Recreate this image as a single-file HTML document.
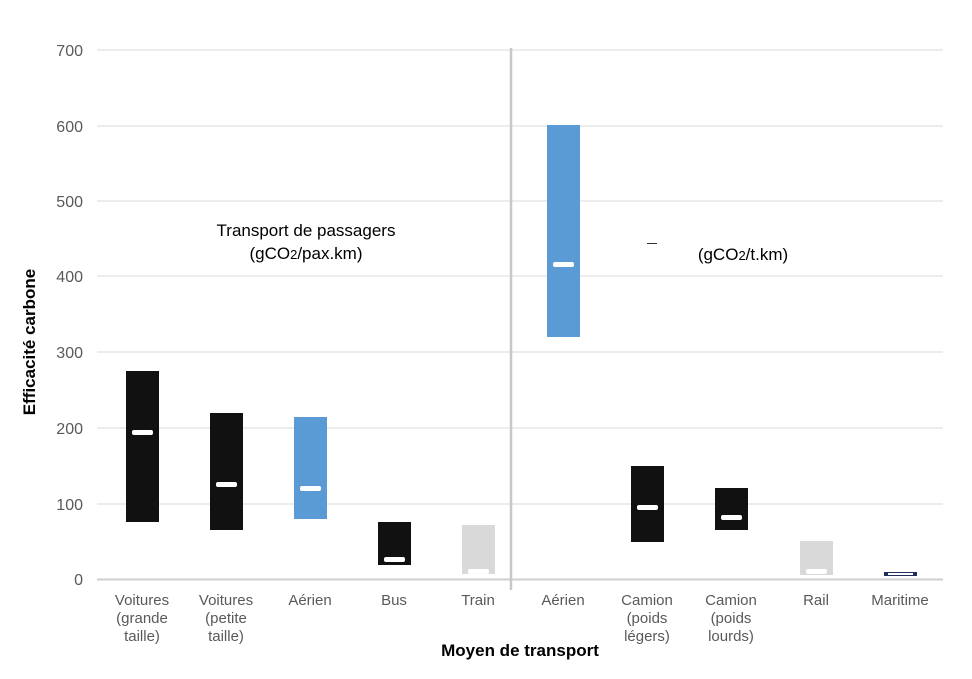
<!DOCTYPE html>
<html><head><meta charset="utf-8"><style>body{margin:0;background:#fff}</style></head><body>
<svg width="972" height="674" xmlns="http://www.w3.org/2000/svg" font-family="Liberation Sans, sans-serif">
<g stroke="#d9d9d9" stroke-width="1">
<line x1="97" y1="50" x2="943" y2="50"/><line x1="97" y1="126" x2="943" y2="126"/>
<line x1="97" y1="201" x2="943" y2="201"/><line x1="97" y1="276" x2="943" y2="276"/>
<line x1="97" y1="352" x2="943" y2="352"/><line x1="97" y1="428" x2="943" y2="428"/>
<line x1="97" y1="504" x2="943" y2="504"/>
</g>
<line x1="97" y1="579.5" x2="943" y2="579.5" stroke="#cfcfcf" stroke-width="2"/>
<line x1="511" y1="48" x2="511" y2="590" stroke="#c8c8c8" stroke-width="2.5"/>
<g font-size="16" fill="#595959" text-anchor="end">
<text x="83" y="56">700</text><text x="83" y="132">600</text><text x="83" y="207">500</text>
<text x="83" y="282">400</text><text x="83" y="358">300</text><text x="83" y="434">200</text>
<text x="83" y="510">100</text><text x="83" y="585">0</text></g>
<g>
<rect x="126" y="371" width="33" height="151" fill="#111"/>
<rect x="210" y="413" width="33" height="117" fill="#111"/>
<rect x="294" y="417" width="33" height="102" fill="#5b9bd5"/>
<rect x="378" y="522" width="33" height="43" fill="#111"/>
<rect x="462" y="525" width="33" height="49" fill="#d9d9d9"/>
<rect x="547" y="125" width="33" height="212" fill="#5b9bd5"/>
<rect x="631" y="466" width="33" height="76" fill="#111"/>
<rect x="715" y="488" width="33" height="42" fill="#111"/>
<rect x="800" y="541" width="33" height="34" fill="#d9d9d9"/>
<rect x="884" y="572" width="33" height="4" fill="#1f2e5e"/>
<rect x="888" y="573" width="25" height="2" fill="#fff"/>
</g>
<g fill="#fff">
<rect x="132" y="430" width="21" height="5" rx="2"/>
<rect x="216" y="482" width="21" height="5" rx="2"/>
<rect x="300" y="486" width="21" height="5" rx="2"/>
<rect x="384" y="557" width="21" height="5" rx="2"/>
<rect x="468" y="569" width="21" height="5" rx="2"/>
<rect x="553" y="262" width="21" height="5" rx="2"/>
<rect x="637" y="505" width="21" height="5" rx="2"/>
<rect x="721" y="515" width="21" height="5" rx="2"/>
<rect x="806" y="569" width="21" height="5" rx="2"/>
</g>
<g font-size="15" fill="#595959" text-anchor="middle">
<text x="142" y="605">Voitures</text><text x="142" y="623">(grande</text><text x="142" y="641">taille)</text>
<text x="226" y="605">Voitures</text><text x="226" y="623">(petite</text><text x="226" y="641">taille)</text>
<text x="310" y="605">Aérien</text><text x="394" y="605">Bus</text><text x="478" y="605">Train</text>
<text x="563" y="605">Aérien</text>
<text x="647" y="605">Camion</text><text x="647" y="623">(poids</text><text x="647" y="641">légers)</text>
<text x="731" y="605">Camion</text><text x="731" y="623">(poids</text><text x="731" y="641">lourds)</text>
<text x="816" y="605">Rail</text><text x="900" y="605">Maritime</text>
</g>
<text x="520" y="656" font-size="17" font-weight="bold" text-anchor="middle" fill="#000">Moyen de transport</text>
<text transform="translate(35,342) rotate(-90)" font-size="17" font-weight="bold" text-anchor="middle" fill="#000">Efficacité carbone</text>
<g font-size="17" fill="#000" text-anchor="middle">
<text x="306" y="236">Transport de passagers</text>
<text x="306" y="259">(gCO<tspan font-size="13">2</tspan>/pax.km)</text>
<text x="743" y="260">(gCO<tspan font-size="13">2</tspan>/t.km)</text>
</g>
<rect x="647" y="243" width="10" height="1" fill="#333"/>
</svg>
</body></html>
